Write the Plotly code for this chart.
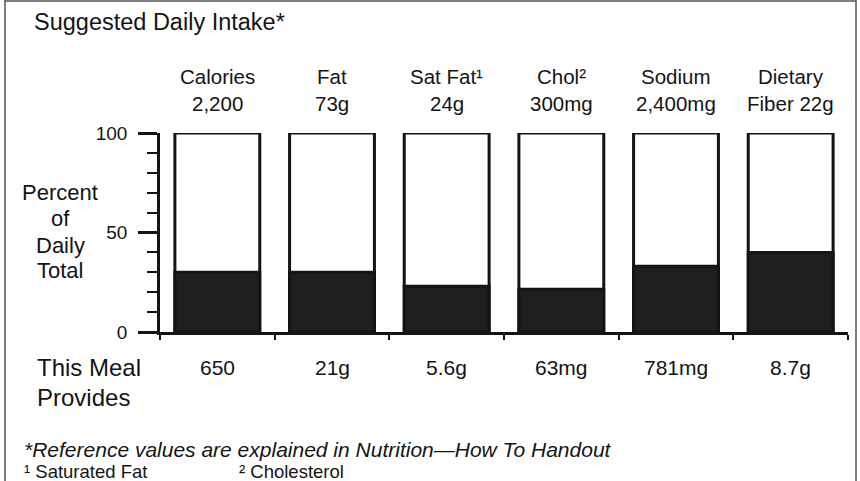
import plotly.graph_objects as go

# ---- data ----
header_line1 = ["Calories", "Fat", "Sat Fat\u00b9", "Chol\u00b2", "Sodium", "Dietary"]
header_line2 = ["2,200", "73g", "24g", "300mg", "2,400mg", "Fiber 22g"]
meal_values = ["650", "21g", "5.6g", "63mg", "781mg", "8.7g"]
percent_of_daily = [30, 30, 23, 21.5, 33, 40]
full_scale = [100, 100, 100, 100, 100, 100]
y_ticks = [0, 50, 100]

W, H = 860, 481
L, R, T, B = 160, 848, 133, 332  # plot area in window pixels

def px(x):
    return (x - L) / (R - L)

def py(y):
    return (B - y) / (B - T)

FONT = "Liberation Sans, Arial, Helvetica, sans-serif"
INK = "#141414"

idx = list(range(len(header_line1)))

fig = go.Figure()
fig.add_trace(go.Bar(
    x=idx, y=full_scale, width=0.74,
    marker=dict(color="white", line=dict(color=INK, width=3)),
    hoverinfo="skip", showlegend=False,
))
fig.add_trace(go.Bar(
    x=idx, y=percent_of_daily, width=0.74,
    marker=dict(color="#1e1e1e", line=dict(color=INK, width=3)),
    showlegend=False,
))

ann = []
ann.append(dict(text="Suggested Daily Intake*", x=px(32), y=py(22), xref="paper", yref="paper",
                xanchor="left", yanchor="middle", showarrow=False,
                font=dict(size=23.5, color=INK, family=FONT)))
for i in idx:
    ann.append(dict(text=header_line1[i], x=i, y=py(76), xref="x", yref="paper",
                    xanchor="center", yanchor="middle", showarrow=False,
                    font=dict(size=20.5, color=INK, family=FONT)))
    ann.append(dict(text=header_line2[i], x=i, y=py(104), xref="x", yref="paper",
                    xanchor="center", yanchor="middle", showarrow=False,
                    font=dict(size=20.5, color=INK, family=FONT)))
    ann.append(dict(text=meal_values[i], x=i, y=py(367), xref="x", yref="paper",
                    xanchor="center", yanchor="middle", showarrow=False,
                    font=dict(size=21, color=INK, family=FONT)))
for txt, yy in zip(["Percent", "of", "Daily", "Total"], [192, 218, 245, 270]):
    ann.append(dict(text=txt, x=px(60), y=py(yy), xref="paper", yref="paper",
                    xanchor="center", yanchor="middle", showarrow=False,
                    font=dict(size=22, color=INK, family=FONT)))
for txt, yy in zip(["This Meal", "Provides"], [367, 397]):
    ann.append(dict(text=txt, x=px(35), y=py(yy), xref="paper", yref="paper",
                    xanchor="left", yanchor="middle", showarrow=False,
                    font=dict(size=24, color=INK, family=FONT)))
ann.append(dict(text="<i>*Reference values are explained in Nutrition\u2014How To Handout</i>",
                x=px(22), y=py(449), xref="paper", yref="paper",
                xanchor="left", yanchor="middle", showarrow=False,
                font=dict(size=21, color=INK, family=FONT)))
ann.append(dict(text="\u00b9 Saturated Fat", x=px(22), y=py(471), xref="paper", yref="paper",
                xanchor="left", yanchor="middle", showarrow=False,
                font=dict(size=18.5, color=INK, family=FONT)))
ann.append(dict(text="\u00b2 Cholesterol", x=px(237), y=py(471), xref="paper", yref="paper",
                xanchor="left", yanchor="middle", showarrow=False,
                font=dict(size=18.5, color=INK, family=FONT)))

shapes = [
    dict(type="line", xref="paper", yref="paper", x0=px(5), x1=px(5), y0=py(0), y1=py(490),
         line=dict(color="#555", width=1.5)),
    dict(type="line", xref="paper", yref="paper", x0=px(5), x1=px(856), y0=py(1), y1=py(1),
         line=dict(color="#555", width=1.5)),
    dict(type="line", xref="paper", yref="paper", x0=px(856), x1=px(856), y0=py(0), y1=py(490),
         line=dict(color="#555", width=1.5)),
]

fig.update_layout(
    width=W, height=H,
    margin=dict(l=L, r=W - R, t=T, b=H - B),
    paper_bgcolor="white", plot_bgcolor="white",
    barmode="overlay",
    annotations=ann, shapes=shapes,
    font=dict(family=FONT, color=INK),
    xaxis=dict(range=[-0.5, 5.5], tickvals=[i - 0.5 for i in range(7)], showticklabels=False,
               ticks="outside", ticklen=5, tickwidth=2, tickcolor=INK,
               showline=True, linewidth=2.5, linecolor=INK, showgrid=False, zeroline=False,
               fixedrange=True),
    yaxis=dict(range=[0, 100], tickvals=y_ticks, ticks="outside", ticklen=19, tickwidth=2.5,
               tickcolor=INK, showline=True, linewidth=2.5, linecolor=INK,
               showgrid=False, zeroline=False, ticklabelstandoff=7,
               tickfont=dict(size=19, color=INK, family=FONT),
               minor=dict(dtick=10, ticks="outside", ticklen=10, tickwidth=2, tickcolor=INK,
                          showgrid=False),
               fixedrange=True),
)

fig.write_html("out.html",
               config={"displayModeBar": False},
               post_script="document.body.style.margin='0';document.body.style.overflow='hidden';")
